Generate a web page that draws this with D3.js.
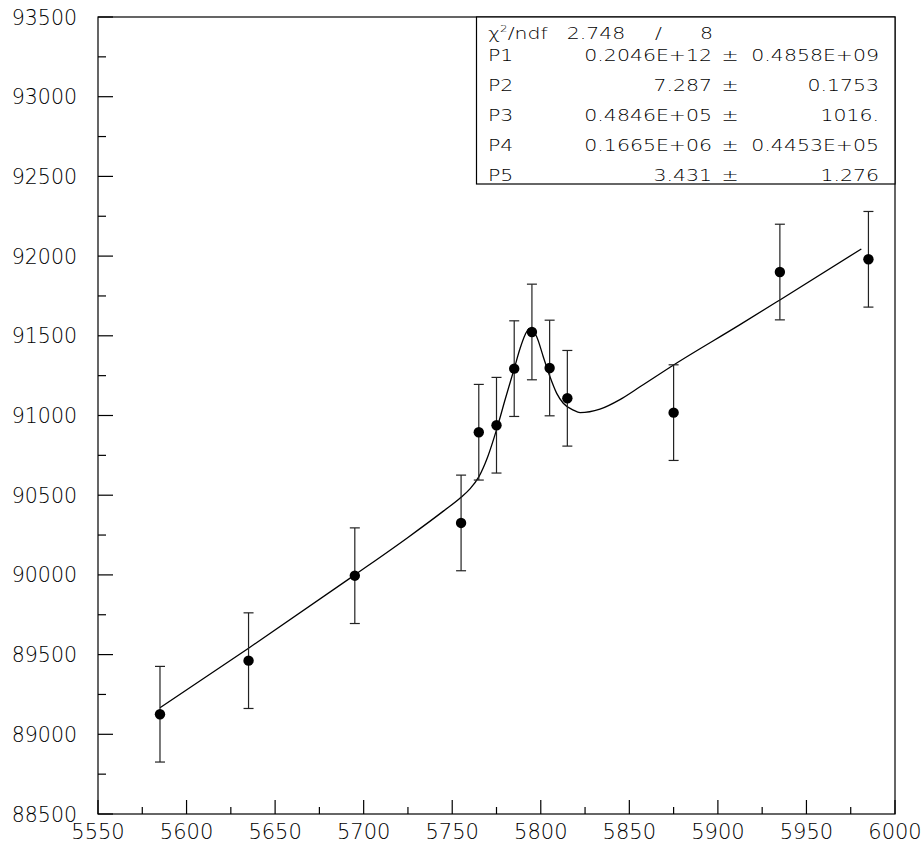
<!DOCTYPE html>
<html>
<head>
<meta charset="utf-8">
<script src="https://cdn.jsdelivr.net/npm/d3@7"></script>
<style>
  html, body { margin: 0; padding: 0; background: #fff; }
  text { font-family: "DejaVu Sans", sans-serif; font-weight: 200; fill: #000; }
</style>
</head>
<body>
<div id="chart"></div>
<script>
// measured points with errors
const xData = [5585, 5635, 5695, 5755, 5765, 5775, 5785, 5795, 5805, 5815, 5875, 5935, 5985]
const yData = [89126, 89462, 89995, 90326, 90895, 90939, 91294, 91524, 91298, 91108, 91018, 91900, 91980]
const yErr = [300, 300, 300, 300, 300, 300, 300, 300, 300, 300, 300, 300, 300]

// fitted curve
const fitX = [5585, 5635, 5695, 5725, 5745, 5755, 5760, 5765, 5770, 5775, 5780, 5785, 5788.3, 5791.1, 5793.5,
  5797.7, 5801.4, 5805.2, 5809, 5812.7, 5818.4, 5822.2, 5833.4, 5844.7, 5856, 5875, 5912.5, 5935, 5981]
const fitY = [89167, 89540, 90000, 90235, 90400, 90487, 90540, 90615, 90740, 90910, 91105, 91294, 91420, 91505, 91545,
  91494, 91369, 91243, 91139, 91077, 91034, 91018, 91040, 91100, 91180, 91317, 91570, 91725, 92045]

const xTicks = [5550, 5600, 5650, 5700, 5750, 5800, 5850, 5900, 5950, 6000]
const yTicks = [88500, 89000, 89500, 90000, 90500, 91000, 91500, 92000, 92500, 93000, 93500]

// fit statistics box
const statNames = ["P1", "P2", "P3", "P4", "P5"]
const statValues = ["0.2046E+12", "7.287", "0.4846E+05", "0.1665E+06", "3.431"]
const statErrors = ["0.4858E+09", "0.1753", "1016.", "0.4453E+05", "1.276"]
const chi2 = "2.748"
const ndf = "8"

const width = 924, height = 844
const margin = { left: 98, top: 17, right: 29, bottom: 30 }

const svg = d3.select("#chart").append("svg")
  .attr("width", width)
  .attr("height", height)

const x = d3.scaleLinear().domain([5550, 6000]).range([margin.left, width - margin.right])
const y = d3.scaleLinear().domain([88500, 93500]).range([height - margin.bottom, margin.top])

const x0 = x.range()[0], x1 = x.range()[1]
const y0 = y.range()[0], y1 = y.range()[1]

// stretched text to mimic the wide plotting font
function label(g, px, py, str, anchor, size, sx) {
  return g.append("text")
    .attr("transform", `translate(${px},${py}) scale(${sx},1)`)
    .attr("text-anchor", anchor)
    .style("font-size", size + "px")
    .text(str)
}

// frame
svg.append("rect")
  .attr("x", x0).attr("y", y1)
  .attr("width", x1 - x0).attr("height", y0 - y1)
  .attr("fill", "none").attr("stroke", "#000").attr("stroke-width", 1.2)

// y ticks (inside, on the left axis)
const yMinor = d3.range(88750, 93500, 500)
svg.append("g").selectAll("line.major")
  .data(yTicks).join("line")
  .attr("x1", x0).attr("x2", x0 + 15)
  .attr("y1", d => y(d)).attr("y2", d => y(d))
  .attr("stroke", "#000").attr("stroke-width", 1.2)
svg.append("g").selectAll("line")
  .data(yMinor).join("line")
  .attr("x1", x0).attr("x2", x0 + 8)
  .attr("y1", d => y(d)).attr("y2", d => y(d))
  .attr("stroke", "#000").attr("stroke-width", 1.2)

const yLab = svg.append("g")
yTicks.forEach(t => label(yLab, 77, y(t) + 7.5, String(t), "end", 20.5, 1.0))

// x ticks (inside, up from bottom axis)
const xMinor = d3.range(5575, 6000, 50)
svg.append("g").selectAll("line")
  .data(xTicks).join("line")
  .attr("x1", d => x(d)).attr("x2", d => x(d))
  .attr("y1", y0).attr("y2", y0 - 14)
  .attr("stroke", "#000").attr("stroke-width", 1.2)
svg.append("g").selectAll("line")
  .data(xMinor).join("line")
  .attr("x1", d => x(d)).attr("x2", d => x(d))
  .attr("y1", y0).attr("y2", y0 - 7)
  .attr("stroke", "#000").attr("stroke-width", 1.2)

const xLab = svg.append("g")
xTicks.forEach(t => label(xLab, x(t), y0 + 25, String(t), "middle", 21, 1.0))

// fit curve
const line = d3.line()
  .x(d => x(d[0]))
  .y(d => y(d[1]))
  .curve(d3.curveMonotoneX)
svg.append("path")
  .datum(fitX.map((v, i) => [v, fitY[i]]))
  .attr("d", line)
  .attr("fill", "none")
  .attr("stroke", "#000")
  .attr("stroke-width", 1.3)

// error bars
const pts = xData.map((v, i) => ({ x: v, y: yData[i], e: yErr[i] }))
const eb = svg.append("g").attr("stroke", "#222").attr("stroke-width", 1.2)
eb.selectAll("line.v").data(pts).join("line")
  .attr("x1", d => x(d.x)).attr("x2", d => x(d.x))
  .attr("y1", d => y(d.y - d.e)).attr("y2", d => y(d.y + d.e))
eb.selectAll("line.t").data(pts).join("line")
  .attr("x1", d => x(d.x) - 5).attr("x2", d => x(d.x) + 5)
  .attr("y1", d => y(d.y + d.e)).attr("y2", d => y(d.y + d.e))
eb.selectAll("line.b").data(pts).join("line")
  .attr("x1", d => x(d.x) - 5).attr("x2", d => x(d.x) + 5)
  .attr("y1", d => y(d.y - d.e)).attr("y2", d => y(d.y - d.e))

svg.append("g").selectAll("circle")
  .data(pts).join("circle")
  .attr("cx", d => x(d.x)).attr("cy", d => y(d.y))
  .attr("r", 5.2)
  .attr("fill", "#000")

// stats box
const box = svg.append("g")
box.append("rect")
  .attr("x", 476.5).attr("y", y1)
  .attr("width", x1 - 476.5).attr("height", 167)
  .attr("fill", "#fff").attr("stroke", "#000").attr("stroke-width", 1.2)

const fs = 15.5, sx = 1.32
const rowY = [39.3, 61, 91, 120.7, 151, 180.7]

const chiText = box.append("text")
  .attr("transform", `translate(488,${rowY[0]}) scale(${sx},1)`)
  .style("font-size", fs + "px")
chiText.append("tspan").text("χ")
chiText.append("tspan").attr("dy", -7).style("font-size", "9px").text("2")
chiText.append("tspan").attr("dy", 7).text("/ndf")
label(box, 566.7, rowY[0], chi2, "start", fs, sx)
label(box, 655, rowY[0], "/", "start", fs, sx)
label(box, 713, rowY[0], ndf, "end", fs, sx)

statNames.forEach((n, i) => {
  const ry = rowY[i + 1]
  label(box, 488, ry, n, "start", fs, sx)
  label(box, 712, ry, statValues[i], "end", fs, sx)
  label(box, 730, ry, "±", "middle", fs, sx)
  label(box, 879, ry, statErrors[i], "end", fs, sx)
})
</script>
</body>
</html>
